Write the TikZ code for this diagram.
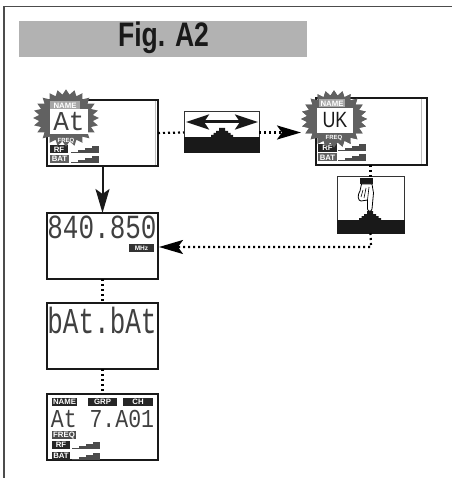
\documentclass[tikz,border=0pt]{standalone}
\usepackage{graphicx}
\usepackage{fontspec}
\setsansfont{Liberation Sans}
\setmonofont{Liberation Mono}
\usetikzlibrary{positioning, arrows.meta, shapes.geometric}

% small signal bars beside RF and BAT
\newcommand{\levelbars}[2]{
  \foreach \i/\h in {0/1,7/3,14/5,21/7}
    \fill[black!70] (#1+\i,#2) rectangle ++(6.5,-\h);
}
% stepped mound on top of the black band
\newcommand{\keymound}[2]{
  \fill[black!90] (#1-11,#2) -- ++(0,-2) -- ++(2.5,0) -- ++(0,-2) -- ++(2.5,0) -- ++(0,-2) -- ++(3,0) -- ++(0,-3) -- ++(6,0)
    -- ++(0,3) -- ++(3,0) -- ++(0,2) -- ++(2.5,0) -- ++(0,2) -- ++(2.5,0) -- ++(0,2) -- cycle;
}

\begin{document}
\begin{tikzpicture}[
    x=1pt, y=-1pt,
    node distance=47pt and 26pt,
    lcd/.style={rectangle, draw=black!90, line width=2pt, minimum width=111pt, minimum height=66pt, outer sep=0pt, inner sep=0pt},
    keybox/.style={rectangle, draw=black!80, line width=1pt, outer sep=0pt, inner sep=0pt},
    burst/.style={star, star points=24, star point ratio=1.22, fill=black!62, minimum size=66pt, inner sep=0pt, outer sep=0pt, yscale=.87, transform shape},
    segment/.style={font=\ttfamily\fontsize{26}{26}\selectfont, inner sep=0pt, text=black!75},
    segsmall/.style={font=\ttfamily\fontsize{21.5}{21.5}\selectfont, inner sep=0pt, text=black!75},
    tag/.style={fill=black!85, text=white, font=\sffamily\bfseries\fontsize{7.8}{7.8}\selectfont, inner sep=0pt, minimum height=8pt, text height=5.5pt, text depth=0pt, outer sep=0pt},
    greytag/.style={tag, fill=black!62},
    dots/.style={line width=2.2pt, dash pattern=on 2pt off 3pt},
    flow/.style={line width=2pt, black!90},
    head/.style={-{Stealth[length=24pt, width=14pt, inset=5pt]}}
]
\useasboundingbox (0,0) rectangle (452,478);

% frame and title
\draw[line width=1.6pt, black!70] (4,478) -- (4,6.5) -- (452,6.5);
\fill[black!30] (19,21) rectangle (307,57);
\node[font=\sffamily\bfseries\fontsize{34}{34}\selectfont, text=black!90, inner sep=0pt] (title) at (163.5,38) {\scalebox{.78}[1]{Fig. A2}};

% displays down the left side
\node[lcd] (lcdAt) at (102.5,133) {};
\node[lcd, below=of lcdAt] (lcdFreq) {};
\node[lcd, below=24pt of lcdFreq] (lcdBat) {};
\node[lcd, below=25pt of lcdBat] (lcdFull) {};
\node[lcd, minimum height=67pt] (lcdUK) at (371,131.5) {};

% keys
\node[keybox, minimum width=75pt, minimum height=41pt] (keyTurn) at (221.5,132.5) {};
\fill[black!90] (184,137) rectangle (259.5,153);
\keymound{222}{137}
\node[keybox, minimum width=67pt, minimum height=56pt] (keyPress) at (370.5,205) {};
\fill[black!90] (337,220) rectangle (405,233.5);
\keymound{370}{220}

% double arrow on the first key
\coordinate (turnL) at (186,122);
\coordinate (turnR) at (258,122);
\draw[line width=3pt, black!90, {Stealth[length=23pt, width=15pt, inset=5pt]}-{Stealth[length=23pt, width=15pt, inset=5pt]}] (turnL) -- (turnR);

% pointing hand
\fill[black!90] (360,178) rectangle (373,184);
\draw[fill=white, line width=.8pt, line join=round] (361.5,184) -- (360,191) .. controls (357,195) and (358,201) .. (361,201)
  -- (367.5,200) -- (367.5,209) .. controls (368,212) and (371.5,212) .. (372,209) -- (373.5,193) -- (372,184) -- cycle;
\draw[line width=.6pt] (363,190) -- (361,197);
\draw[line width=.6pt] (366,188) -- (364,198);
\draw[line width=.6pt] (369,187) -- (367.5,200);

% connectors
\draw[flow, head] (lcdAt) -- (lcdFreq);
\draw[dots] (lcdAt.east) -- (keyTurn.west);
\node[burst] (burstUK) at (334,119) {};
\draw[dots, head] (keyTurn.east) -- (keyTurn.east -| burstUK.west);
\draw[dots] (lcdUK.south -| keyPress.north) -- (keyPress.north);
\draw[dots, head] (keyPress.south) -- (371,247) -- (159,247);
\draw[dots] (lcdFreq) -- (lcdBat);
\draw[dots] (lcdBat) -- (lcdFull);

% first display
\draw[black!25, line width=.7pt] (155,101) -- (155,165);
\node[tag, minimum width=18pt] (rfAt) at (59,149.5) {RF};
\node[greytag, minimum width=19pt] (batAt) at (59.5,159) {BAT};
\levelbars{71}{153}
\levelbars{71}{163}
\node[burst] (burstAt) at (66,118) {};
\node[font=\sffamily\bfseries\fontsize{6}{6}\selectfont, text=white, inner sep=0pt] (freqAt) at (66,140.5) {FREQ};
\node[greytag, fill=black!35, minimum width=30pt] (nameAt) at (65,105.5) {NAME};
\node[segment, fill=white, minimum width=38pt, minimum height=25pt] (textAt) at (69,122) {\scalebox{1}[1.05]{At}};

% second display
\draw[black!25, line width=.7pt] (421,99) -- (421,164);
\node[tag, minimum width=19pt] (rfUK) at (327.5,148) {RF};
\node[greytag, minimum width=19pt] (batUK) at (327.5,157.5) {BAT};
\levelbars{338}{151.5}
\levelbars{338}{161.5}
\node[burst] (burstTop) at (334,119) {};
\node[font=\sffamily\bfseries\fontsize{6}{6}\selectfont, text=white, inner sep=0pt] (freqUK) at (334,137.5) {FREQ};
\node[greytag, fill=black!35, minimum width=26pt] (nameUK) at (332,103.5) {NAME};
\node[fill=white, font=\sffamily\fontsize{21}{21}\selectfont, text=black!90, inner sep=0pt, minimum width=36pt, minimum height=25pt] (textUK) at (335,120.5) {\scalebox{.85}[1.05]{UK}};

% frequency display
\node[segment] (textFreq) at (102,227) {\scalebox{1}[1.3]{840.850}};
\node[tag, minimum width=25pt, fill=black!80, font=\sffamily\bfseries\fontsize{6.5}{6.5}\selectfont] (mhz) at (141.5,248) {MHz};

% battery display
\node[segment] (textBat) at (102,320) {\scalebox{1}[1.4]{bAt.bAt}};

% last display
\node[tag, minimum width=25pt] (nameFull) at (64.5,402) {NAME};
\node[tag, minimum width=29pt] (grpFull) at (102.5,402) {GRP};
\node[tag, minimum width=30pt] (chFull) at (138,402) {CH};
\node[segsmall] (textFull) at (102.5,419) {\scalebox{1}[1.2]{At 7.A01}};
\node[greytag, minimum width=24pt, fill=black!70] (freqFull) at (64,434.5) {FREQ};
\node[tag, minimum width=18pt] (rfFull) at (61,445) {RF};
\node[tag, minimum width=18pt] (batFull) at (61,456) {BAT};
\levelbars{72}{449}
\levelbars{72}{460}

\end{tikzpicture}
\end{document}
